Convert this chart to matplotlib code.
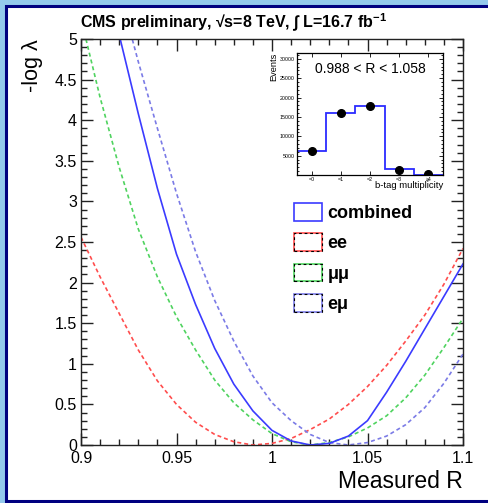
import numpy as np
import matplotlib
matplotlib.use("Agg")
from matplotlib import pyplot as plt, ticker
from matplotlib.patches import Patch, Rectangle

plt.rcParams['font.family'] = ['Liberation Sans', 'DejaVu Sans']
plt.rcParams['mathtext.fontset'] = 'custom'
plt.rcParams['mathtext.rm'] = 'Liberation Sans:bold'
plt.rcParams['mathtext.bf'] = 'Liberation Sans:bold'
plt.rcParams['mathtext.it'] = 'Liberation Sans:bold'

# Likelihood scan (NaN = above the plot range)
nan = np.nan
r_grid = [0.90, 0.91, 0.92, 0.93, 0.94, 0.95, 0.96, 0.97, 0.98, 0.99, 1.00,
          1.01, 1.02, 1.03, 1.04, 1.05, 1.06, 1.07, 1.08, 1.09, 1.10]
combined = [nan, nan, 5.05, 4.08, 3.16, 2.35, 1.73, 1.19, 0.75, 0.42, 0.18,
            0.05, 0.00, 0.02, 0.11, 0.30, 0.65, 1.03, 1.43, 1.83, 2.23]
ee = [2.56, 2.07, 1.62, 1.17, 0.79, 0.50, 0.28, 0.13, 0.04, 0.00, 0.02,
      0.08, 0.19, 0.32, 0.50, 0.72, 0.98, 1.28, 1.60, 1.98, 2.42]
mumu = [5.25, 4.28, 3.42, 2.66, 2.07, 1.58, 1.17, 0.80, 0.52, 0.31, 0.14,
        0.04, 0.00, 0.03, 0.10, 0.21, 0.36, 0.58, 0.86, 1.20, 1.56]
emu = [nan, nan, 5.60, 4.72, 3.90, 3.10, 2.38, 1.78, 1.28, 0.85, 0.52,
       0.30, 0.13, 0.03, 0.00, 0.03, 0.11, 0.25, 0.46, 0.76, 1.12]

# Inset: b-tag multiplicity
btag_edges = [0, 1, 2, 3, 4, 5]
btag_labels = ['=0', '=1', '=2', '=3', '\u22654']
btag_model = [6200, 16000, 17800, 1450, 100]
btag_data = [6300, 16000, 17900, 1400, 150]

COL_COMB = '#3b3bff'
COL_EE = '#ff4d4d'
COL_MM = '#4fd35f'
COL_EM = '#7b7be6'
DASH = (2.4, 1.8)

fig = plt.figure(figsize=(4.89, 5.03), dpi=100, facecolor='#94c9ec')

# Slide-like white panel with navy frame (behind the axes)
fig.patches.append(Rectangle((5.5 / 489, 1 - 501 / 503), (495 - 5.5) / 489, (501 - 5.5) / 503,
                             transform=fig.transFigure, facecolor='white',
                             edgecolor='#000080', linewidth=2.2, zorder=-5))

ax = fig.add_axes([81 / 489, 1 - 445 / 503, 382 / 489, 406 / 503])
ax.set_facecolor('white')

ax.plot(r_grid, ee, color=COL_EE, lw=1.2, dashes=DASH)
ax.plot(r_grid, mumu, color=COL_MM, lw=1.2, dashes=DASH)
ax.plot(r_grid, emu, color=COL_EM, lw=1.2, dashes=DASH)
ax.plot(r_grid, combined, color=COL_COMB, lw=1.2)

ax.set_xlim(0.9, 1.1)
ax.set_ylim(0, 5)

# ROOT-like ticks: inside, on all four sides
ax.xaxis.set_major_locator(ticker.MultipleLocator(0.05))
ax.xaxis.set_minor_locator(ticker.MultipleLocator(0.01))
ax.yaxis.set_major_locator(ticker.MultipleLocator(0.5))
ax.yaxis.set_minor_locator(ticker.MultipleLocator(0.1))
ax.xaxis.set_major_formatter(ticker.FormatStrFormatter('%g'))
ax.yaxis.set_major_formatter(ticker.FormatStrFormatter('%g'))
ax.tick_params(which='both', direction='in', top=True, right=True, width=1.0, color='#222222')
ax.tick_params(which='major', length=8.6)
ax.tick_params(which='minor', length=4.3)
ax.tick_params(axis='x', labelsize=11.5, pad=4)
ax.tick_params(axis='y', labelsize=11.5, pad=3)
for sp in ax.spines.values():
    sp.set_linewidth(1.0)
    sp.set_color('#222222')

ax.set_xlabel('Measured R', fontsize=16.5, loc='right', labelpad=3)
ax.set_ylabel('-log \u03bb', fontsize=15.5, loc='top', labelpad=8)

fig.text(80 / 489, 1 - 28 / 503, 'CMS preliminary, \u221as=8 TeV, \u222b L=16.7 fb$^{-1}$',
         fontsize=11.5, fontweight='bold', ha='left', va='baseline')

# Legend with ROOT-style boxes
handles = [
    Patch(facecolor='white', edgecolor=COL_COMB, lw=1.2),
    (Patch(facecolor='white', edgecolor=COL_EE, lw=1.2),
     Patch(facecolor='none', edgecolor='black', lw=0.8, ls=(0, (2.5, 2.5)))),
    (Patch(facecolor='white', edgecolor=COL_MM, lw=1.2),
     Patch(facecolor='none', edgecolor='black', lw=0.8, ls=(0, (2.5, 2.5)))),
    (Patch(facecolor='white', edgecolor=COL_EM, lw=1.2),
     Patch(facecolor='none', edgecolor='black', lw=0.8, ls=(0, (2.5, 2.5)))),
]
ax.legend(handles, ['combined', 'ee', '\u03bc\u03bc', 'e\u03bc'],
          loc='upper left', bbox_to_anchor=((294 - 81) / 382, (445 - 203) / 406),
          frameon=False, borderpad=0, borderaxespad=0,
          handlelength=1.55, handleheight=1.15, labelspacing=0.62, handletextpad=0.3,
          prop={'weight': 'bold', 'size': 13})

# Inset histogram
ins = fig.add_axes([297 / 489, 1 - 175 / 503, 146 / 489, 122 / 503])
ins.stairs(btag_model, btag_edges, color='#2b2bff', lw=1.3)
centers = [(btag_edges[i] + btag_edges[i + 1]) / 2 for i in range(len(btag_data))]
ins.plot(centers, btag_data, 'o', color='black', ms=5.5)
ins.set_xlim(0, 5)
ins.set_ylim(0, 31500)
ins.set_xticks(centers)
ins.set_xticklabels(btag_labels)
ins.yaxis.set_major_locator(ticker.MultipleLocator(5000))
ins.yaxis.set_minor_locator(ticker.MultipleLocator(1000))
ins.yaxis.set_major_formatter(ticker.FuncFormatter(lambda v, p: '' if v == 0 else '%d' % v))
ins.tick_params(which='both', direction='in', top=True, right=True, width=0.6)
ins.tick_params(which='major', length=3)
ins.tick_params(which='minor', length=1.5)
ins.tick_params(axis='both', labelsize=3.8, pad=1.5)
for sp in ins.spines.values():
    sp.set_linewidth(0.9)
ins.set_xlabel('b-tag multiplicity', fontsize=6.8, loc='right', labelpad=-1)
ins.set_ylabel('Events', fontsize=6.6, loc='top', labelpad=1)
ins.text(0.5, 0.87, '0.988 < R < 1.058', transform=ins.transAxes,
         fontsize=10, ha='center', va='center')

fig.savefig('out.png', dpi=100, facecolor=fig.get_facecolor())
